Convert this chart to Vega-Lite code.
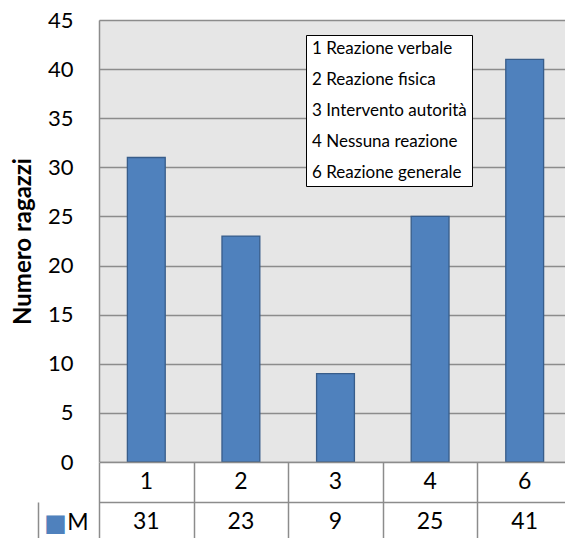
{
  "$schema": "https://vega.github.io/schema/vega-lite/v6.json",
  "padding": {"left": 11, "top": 9, "right": 0, "bottom": 0},
  "bounds": "flush",
  "spacing": 0,
  "config": {"font": "Lato", "view": {"stroke": null}},
  "data": {
    "values": [
      {"cat": "1", "label": "1 Reazione verbale", "M": 31},
      {"cat": "2", "label": "2 Reazione fisica", "M": 23},
      {"cat": "3", "label": "3 Intervento autorità", "M": 9},
      {"cat": "4", "label": "4 Nessuna reazione", "M": 25},
      {"cat": "6", "label": "6 Reazione generale", "M": 41}
    ]
  },
  "vconcat": [
    {
      "width": 473,
      "height": 442,
      "view": {"fill": "#E6E6E6", "stroke": null},
      "mark": {"type": "bar", "stroke": "#385D8A", "strokeWidth": 1.3},
      "encoding": {
        "x": {
          "field": "cat",
          "type": "nominal",
          "scale": {"paddingInner": 0.6, "paddingOuter": 0.3},
          "axis": null
        },
        "y": {
          "field": "M",
          "type": "quantitative",
          "scale": {"domain": [0, 45], "nice": false},
          "axis": {
            "values": [0, 5, 10, 15, 20, 25, 30, 35, 40, 45],
            "title": "Numero ragazzi",
            "titleFontSize": 24,
            "titleFontWeight": "bold",
            "titleColor": "black",
            "titleX": -76,
            "titleY": 221,
            "titleAngle": -90,
            "titleAlign": "center",
            "titleBaseline": "middle",
            "labelFontSize": 22,
            "labelColor": "black",
            "labelPadding": 26,
            "ticks": false,
            "domainColor": "#8C8C8C",
            "domainWidth": 1.5,
            "gridColor": "#8C8C8C",
            "gridWidth": 1.5,
            "gridOpacity": 1
          }
        },
        "fill": {
          "field": "label",
          "type": "nominal",
          "scale": {"range": ["#4F81BD", "#4F81BD", "#4F81BD", "#4F81BD", "#4F81BD"]},
          "legend": {
            "orient": "none",
            "legendX": 207,
            "legendY": 15,
            "title": null,
            "fillColor": "white",
            "strokeColor": "black",
            "padding": 5,
            "rowPadding": 13,
            "symbolSize": 0,
            "symbolStrokeWidth": 0,
            "symbolOpacity": 0,
            "labelOffset": -16,
            "labelFontSize": 17,
            "labelColor": "black",
            "labelLimit": 400
          }
        }
      }
    },
    {
      "width": 473,
      "height": 80,
      "view": {"stroke": null, "fill": "white"},
      "layer": [
        {
          "mark": {"type": "text", "fontSize": 23, "color": "black"},
          "encoding": {
            "x": {
              "field": "cat",
              "type": "nominal",
              "scale": {"paddingInner": 0, "paddingOuter": 0},
              "axis": {
                "orient": "bottom",
                "tickBand": "extent",
                "grid": true,
                "gridColor": "#8C8C8C",
                "gridWidth": 1.5,
                "gridOpacity": 1,
                "labels": false,
                "ticks": false,
                "domain": false,
                "title": null
              }
            },
            "y": {
              "datum": "r1",
              "type": "nominal",
              "scale": {"domain": ["r1", "r2"], "paddingInner": 0, "paddingOuter": 0},
              "axis": {
                "orient": "left",
                "tickBand": "extent",
                "grid": true,
                "gridColor": "#8C8C8C",
                "gridWidth": 1.5,
                "gridOpacity": 1,
                "ticks": false,
                "domain": false,
                "labelExpr": "datum.value === 'r2' ? 'M' : ''",
                "labelFontSize": 23,
                "labelColor": "black",
                "labelPadding": 11,
                "title": "■",
                "titleFont": "DejaVu Sans",
                "titleFontSize": 24,
                "titleFontWeight": "normal",
                "titleColor": "#4F81BD",
                "titleAngle": 0,
                "titleX": -44,
                "titleY": 61,
                "titleAlign": "center",
                "titleBaseline": "middle"
              }
            },
            "text": {"field": "cat"}
          }
        },
        {
          "mark": {"type": "text", "fontSize": 23, "color": "black"},
          "encoding": {
            "x": {"field": "cat", "type": "nominal"},
            "y": {
              "datum": "r2",
              "type": "nominal",
              "axis": {
                "orient": "left",
                "offset": 61,
                "tickBand": "extent",
                "grid": false,
                "labels": false,
                "ticks": true,
                "tickSize": -61,
                "tickWidth": 1.5,
                "tickColor": {"condition": {"test": "datum.value === 'r2'", "value": "#8C8C8C"}, "value": "transparent"},
                "domain": true,
                "domainColor": "#8C8C8C",
                "domainWidth": 1.5,
                "domainDash": [0, 40, 100],
                "title": null
              }
            },
            "text": {"field": "M"}
          }
        }
      ],
      "resolve": {"axis": {"y": "independent"}}
    }
  ]
}
